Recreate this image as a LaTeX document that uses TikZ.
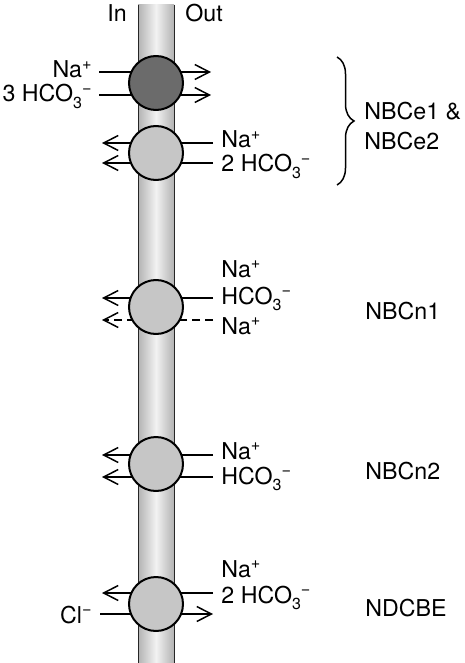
\documentclass[tikz,border=0pt]{standalone}
\usepackage{fontspec}
\setmainfont{TeX Gyre Heros}
\usetikzlibrary{arrows.meta,decorations.pathreplacing}
\newcommand{\ionup}[1]{\textsuperscript{#1}}
\newcommand{\iondn}[1]{\raisebox{-0.5ex}{\footnotesize #1}}
\newcommand{\bic}{HCO\iondn{3}\ionup{−}}
\begin{document}
\begin{tikzpicture}[x=0.5pt,y=-0.5pt,
  every node/.style={font=\fontsize{11.6}{13.5}\selectfont, inner sep=0pt},
  lbl/.style={anchor=base west},
  lblr/.style={anchor=base east},
  flux/.style={line width=0.75pt, -{Straight Barb[length=7.3pt,width=7.5pt,line width=0.75pt]}},
  dflux/.style={flux, dash pattern=on 4pt off 2.5pt},
  carrier/.style={circle, draw=black, line width=1pt, minimum size=27pt, fill=gray!45},
]
\useasboundingbox (0,0) rectangle (465,663);
% membrane
\shade[left color=gray!60, right color=gray!60, middle color=gray!10] (138,5) rectangle (174,663);
\draw[black!85, line width=0.5pt] (138,5) -- (138,663) (174,5) -- (174,663);
\node[anchor=base west] (in) at (107,22) {In};
\node[anchor=base west] (out) at (185,22) {Out};
% arrow end points
\coordinate (a1s) at (99,72);  \coordinate (a1e) at (211,72);
\coordinate (a2s) at (99,95);  \coordinate (a2e) at (211,95);
\coordinate (b1s) at (213,143); \coordinate (b1e) at (102,143);
\coordinate (b2s) at (213,163); \coordinate (b2e) at (102,163);
\coordinate (c1s) at (213,298); \coordinate (c1e) at (102,298);
\coordinate (c2s) at (213,320); \coordinate (c2e) at (102,320);
\coordinate (d1s) at (213,455); \coordinate (d1e) at (102,455);
\coordinate (d2s) at (213,477); \coordinate (d2e) at (102,477);
\coordinate (e1s) at (213,593); \coordinate (e1e) at (102,593);
\coordinate (e2s) at (100,614); \coordinate (e2e) at (213,614);
\draw[flux] (a1s) -- (a1e);
\draw[flux] (a2s) -- (a2e);
\draw[flux] (b1s) -- (b1e);
\draw[flux] (b2s) -- (b2e);
\draw[flux] (c1s) -- (c1e);
\draw[dflux] (c2s) -- (c2e);
\draw[flux] (d1s) -- (d1e);
\draw[flux] (d2s) -- (d2e);
\draw[flux] (e1s) -- (e1e);
\draw[flux] (e2s) -- (e2e);
% carriers
\node[carrier, fill=black!58] (t1) at (156,83) {};
\node[carrier] (t2) at (156,153) {};
\node[carrier] (t3) at (156,307) {};
\node[carrier] (t4) at (156,464) {};
\node[carrier] (t5) at (156,604) {};
% labels
\node[lblr] (l1a) at (93,78) {Na\ionup{+}};
\node[lblr] (l1b) at (93,102) {3 \bic};
\node[lbl] (l2a) at (221,148) {Na\ionup{+}};
\node[lbl] (l2b) at (221,172) {2 \bic};
\node[lbl] (l3a) at (221,277) {Na\ionup{+}};
\node[lbl] (l3b) at (221,304) {\bic};
\node[lbl] (l3c) at (221,334) {Na\ionup{+}};
\node[lbl] (l4a) at (221,459) {Na\ionup{+}};
\node[lbl] (l4b) at (221,484) {\bic};
\node[lbl] (l5a) at (221,577) {Na\ionup{+}};
\node[lbl] (l5b) at (221,603) {2 \bic};
\node[lblr] (l5c) at (93,623) {Cl\ionup{−}};
% brace and names
\draw[line width=0.75pt, decorate, decoration={brace, amplitude=8.5pt}] (337,57) -- (337,185);
\node[lbl] (n1) at (364,120) {NBCe1 \&};
\node[lbl] (n2) at (364,150) {NBCe2};
\node[lbl] (n3) at (365,319) {NBCn1};
\node[lbl] (n4) at (365,479) {NBCn2};
\node[lbl] (n5) at (365,616) {NDCBE};
\end{tikzpicture}
\end{document}
